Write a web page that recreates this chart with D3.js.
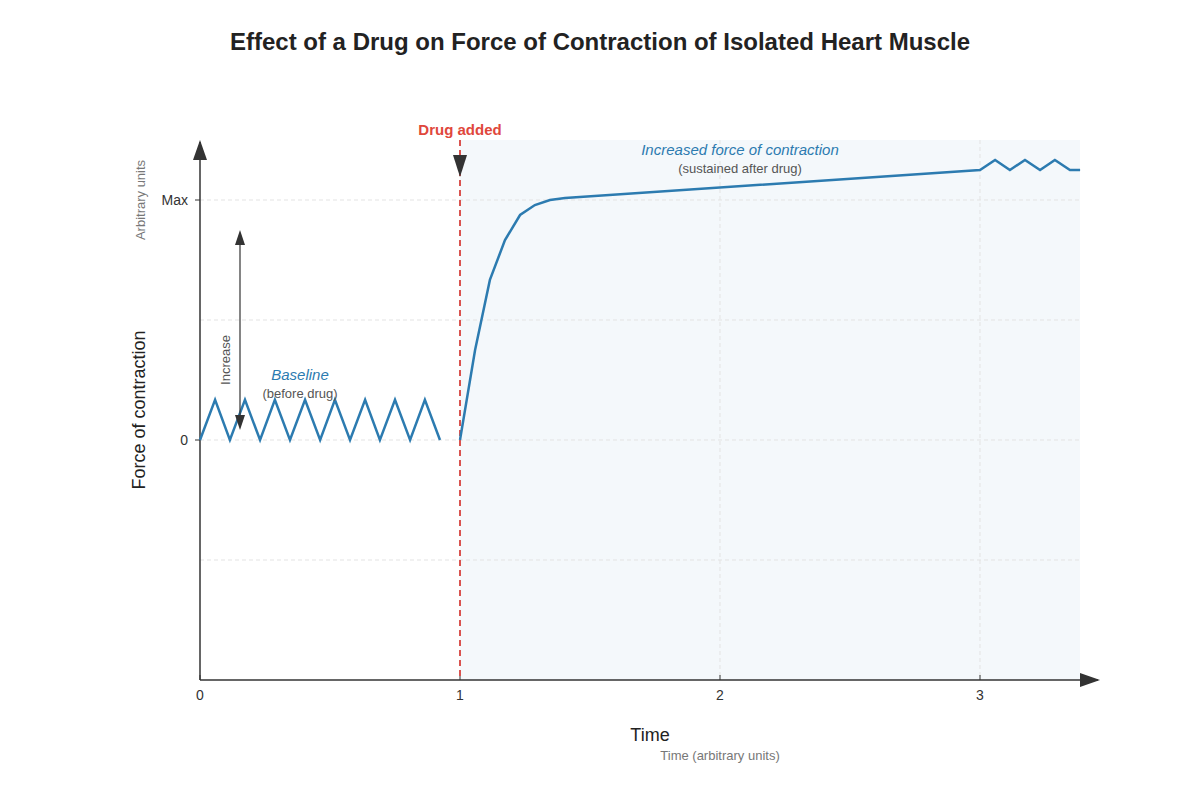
<!DOCTYPE html>
<html><head><meta charset="utf-8">
<script src="https://cdn.jsdelivr.net/npm/d3@7"></script>
<style>body{margin:0;background:#fff;font-family:"Liberation Sans",Arial,sans-serif}</style>
</head><body><svg id="chart" width="1200" height="800"></svg>
<script>
// baseline (before drug) twitches
const baselineX = [0, 0.058, 0.115, 0.173, 0.231, 0.288, 0.346, 0.404, 0.462, 0.519, 0.577, 0.635, 0.692, 0.75, 0.808, 0.865, 0.923];
const baselineY = [0, 0.167, 0, 0.167, 0, 0.167, 0, 0.167, 0, 0.167, 0, 0.167, 0, 0.167, 0, 0.167, 0];
// after drug
const drugX = [1, 1.058, 1.115, 1.173, 1.231, 1.288, 1.346, 1.404, 3, 3.058, 3.115, 3.173, 3.231, 3.288, 3.346, 3.385];
const drugY = [0, 0.375, 0.667, 0.833, 0.9375, 0.979, 1.0, 1.008, 1.125, 1.167, 1.125, 1.167, 1.125, 1.167, 1.125, 1.125];
const xTicks = [0, 1, 2, 3];
const yTicks = [0, 1];
const yTickLabels = ["0", "Max"];
const yGrid = [-0.5, 0, 0.5, 1];
const drugTime = 1;

const svg = d3.select("#chart");
const x = d3.scaleLinear().domain([0, 3]).range([200, 980]);
const y = d3.scaleLinear().domain([-1, 1]).range([680, 200]);
const xMax = x.invert(1080), yTop = y.invert(140);

svg.append("text").attr("x", 600).attr("y", 50).attr("text-anchor", "middle")
    .attr("font-size", 24).attr("font-weight", "bold").attr("fill", "#222")
    .text("Effect of a Drug on Force of Contraction of Isolated Heart Muscle");

// shaded drug region
svg.append("rect").attr("x", x(drugTime)).attr("y", y(yTop)).attr("width", x(xMax) - x(drugTime))
    .attr("height", y(-1) - y(yTop)).attr("fill", "#f4f8fb");

// grid
svg.selectAll(".hg").data(yGrid).join("line").attr("x1", x(0)).attr("x2", x(xMax))
    .attr("y1", d => y(d)).attr("y2", d => y(d)).attr("stroke", "#e3e3e3").attr("stroke-dasharray", "4,3");
svg.selectAll(".vg").data([2, 3]).join("line").attr("x1", d => x(d)).attr("x2", d => x(d))
    .attr("y1", y(yTop)).attr("y2", y(-1)).attr("stroke", "#e3e3e3").attr("stroke-dasharray", "4,3");

// axes
svg.append("line").attr("x1", x(0)).attr("x2", 1098).attr("y1", y(-1)).attr("y2", y(-1))
    .attr("stroke", "#333").attr("stroke-width", 1.5);
svg.append("path").attr("d", `M1100,${y(-1)}L1080,${y(-1) - 7}L1080,${y(-1) + 7}Z`).attr("fill", "#333");
svg.append("line").attr("x1", x(0)).attr("x2", x(0)).attr("y1", y(-1)).attr("y2", 142)
    .attr("stroke", "#333").attr("stroke-width", 1.5);
svg.append("path").attr("d", `M${x(0)},140L${x(0) - 7},160L${x(0) + 7},160Z`).attr("fill", "#333");

svg.selectAll(".xt").data(xTicks).join("text").attr("x", d => x(d)).attr("y", 700)
    .attr("text-anchor", "middle").attr("font-size", 14).attr("fill", "#333").text(d => d);
svg.selectAll(".xtk").data(xTicks).join("line").attr("x1", d => x(d)).attr("x2", d => x(d))
    .attr("y1", y(-1)).attr("y2", y(-1) - 5).attr("stroke", "#333");
svg.selectAll(".yt").data(yTicks).join("text").attr("x", 188).attr("y", d => y(d) + 5)
    .attr("text-anchor", "end").attr("font-size", 14).attr("fill", "#333").text((d, i) => yTickLabels[i]);
svg.selectAll(".ytk").data(yTicks).join("line").attr("x1", x(0) - 5).attr("x2", x(0))
    .attr("y1", d => y(d)).attr("y2", d => y(d)).attr("stroke", "#333");

svg.append("text").attr("x", 650).attr("y", 741).attr("text-anchor", "middle").attr("font-size", 18).attr("fill", "#222").text("Time");
svg.append("text").attr("x", 720).attr("y", 760).attr("text-anchor", "middle").attr("font-size", 13).attr("fill", "#777").text("Time (arbitrary units)");
svg.append("text").attr("transform", "translate(145,410) rotate(-90)").attr("text-anchor", "middle")
    .attr("font-size", 18).attr("fill", "#222").text("Force of contraction");
svg.append("text").attr("transform", "translate(145,200) rotate(-90)").attr("text-anchor", "middle")
    .attr("font-size", 13).attr("fill", "#777").text("Arbitrary units");

// drug line
svg.append("line").attr("x1", x(drugTime)).attr("x2", x(drugTime)).attr("y1", y(yTop)).attr("y2", y(-1))
    .attr("stroke", "#d9534f").attr("stroke-width", 2).attr("stroke-dasharray", "6,4");
svg.append("path").attr("d", `M${x(drugTime)},177L${x(drugTime) - 7},155L${x(drugTime) + 7},155Z`).attr("fill", "#333");
svg.append("text").attr("x", x(drugTime)).attr("y", 135).attr("text-anchor", "middle")
    .attr("font-size", 15).attr("font-weight", "bold").attr("fill", "#e0473c").text("Drug added");

// series
const line = d3.line().x(d => x(d[0])).y(d => y(d[1]));
const col = "#2c7bb0";
svg.append("path").attr("d", line(d3.zip(baselineX, baselineY))).attr("fill", "none").attr("stroke", col).attr("stroke-width", 2.5);
svg.append("path").attr("d", line(d3.zip(drugX, drugY))).attr("fill", "none").attr("stroke", col).attr("stroke-width", 2.5);

// increase arrow (double-headed)
svg.append("line").attr("x1", 240).attr("x2", 240).attr("y1", 418).attr("y2", 242)
    .attr("stroke", "#333").attr("stroke-width", 1.2);
svg.append("path").attr("d", "M240,230L235,245L245,245Z").attr("fill", "#333");
svg.append("path").attr("d", "M240,430L235,415L245,415Z").attr("fill", "#333");
svg.append("text").attr("transform", "translate(230,360) rotate(-90)").attr("text-anchor", "middle")
    .attr("font-size", 13).attr("fill", "#555").text("Increase");

// annotations
svg.append("text").attr("x", 300).attr("y", 380).attr("text-anchor", "middle").attr("font-size", 15)
    .attr("font-style", "italic").attr("fill", col).text("Baseline");
svg.append("text").attr("x", 300).attr("y", 398).attr("text-anchor", "middle").attr("font-size", 13)
    .attr("fill", "#555").text("(before drug)");
svg.append("text").attr("x", 740).attr("y", 155).attr("text-anchor", "middle").attr("font-size", 15)
    .attr("font-style", "italic").attr("fill", col).text("Increased force of contraction");
svg.append("text").attr("x", 740).attr("y", 173).attr("text-anchor", "middle").attr("font-size", 13)
    .attr("fill", "#555").text("(sustained after drug)");
</script></body></html>
